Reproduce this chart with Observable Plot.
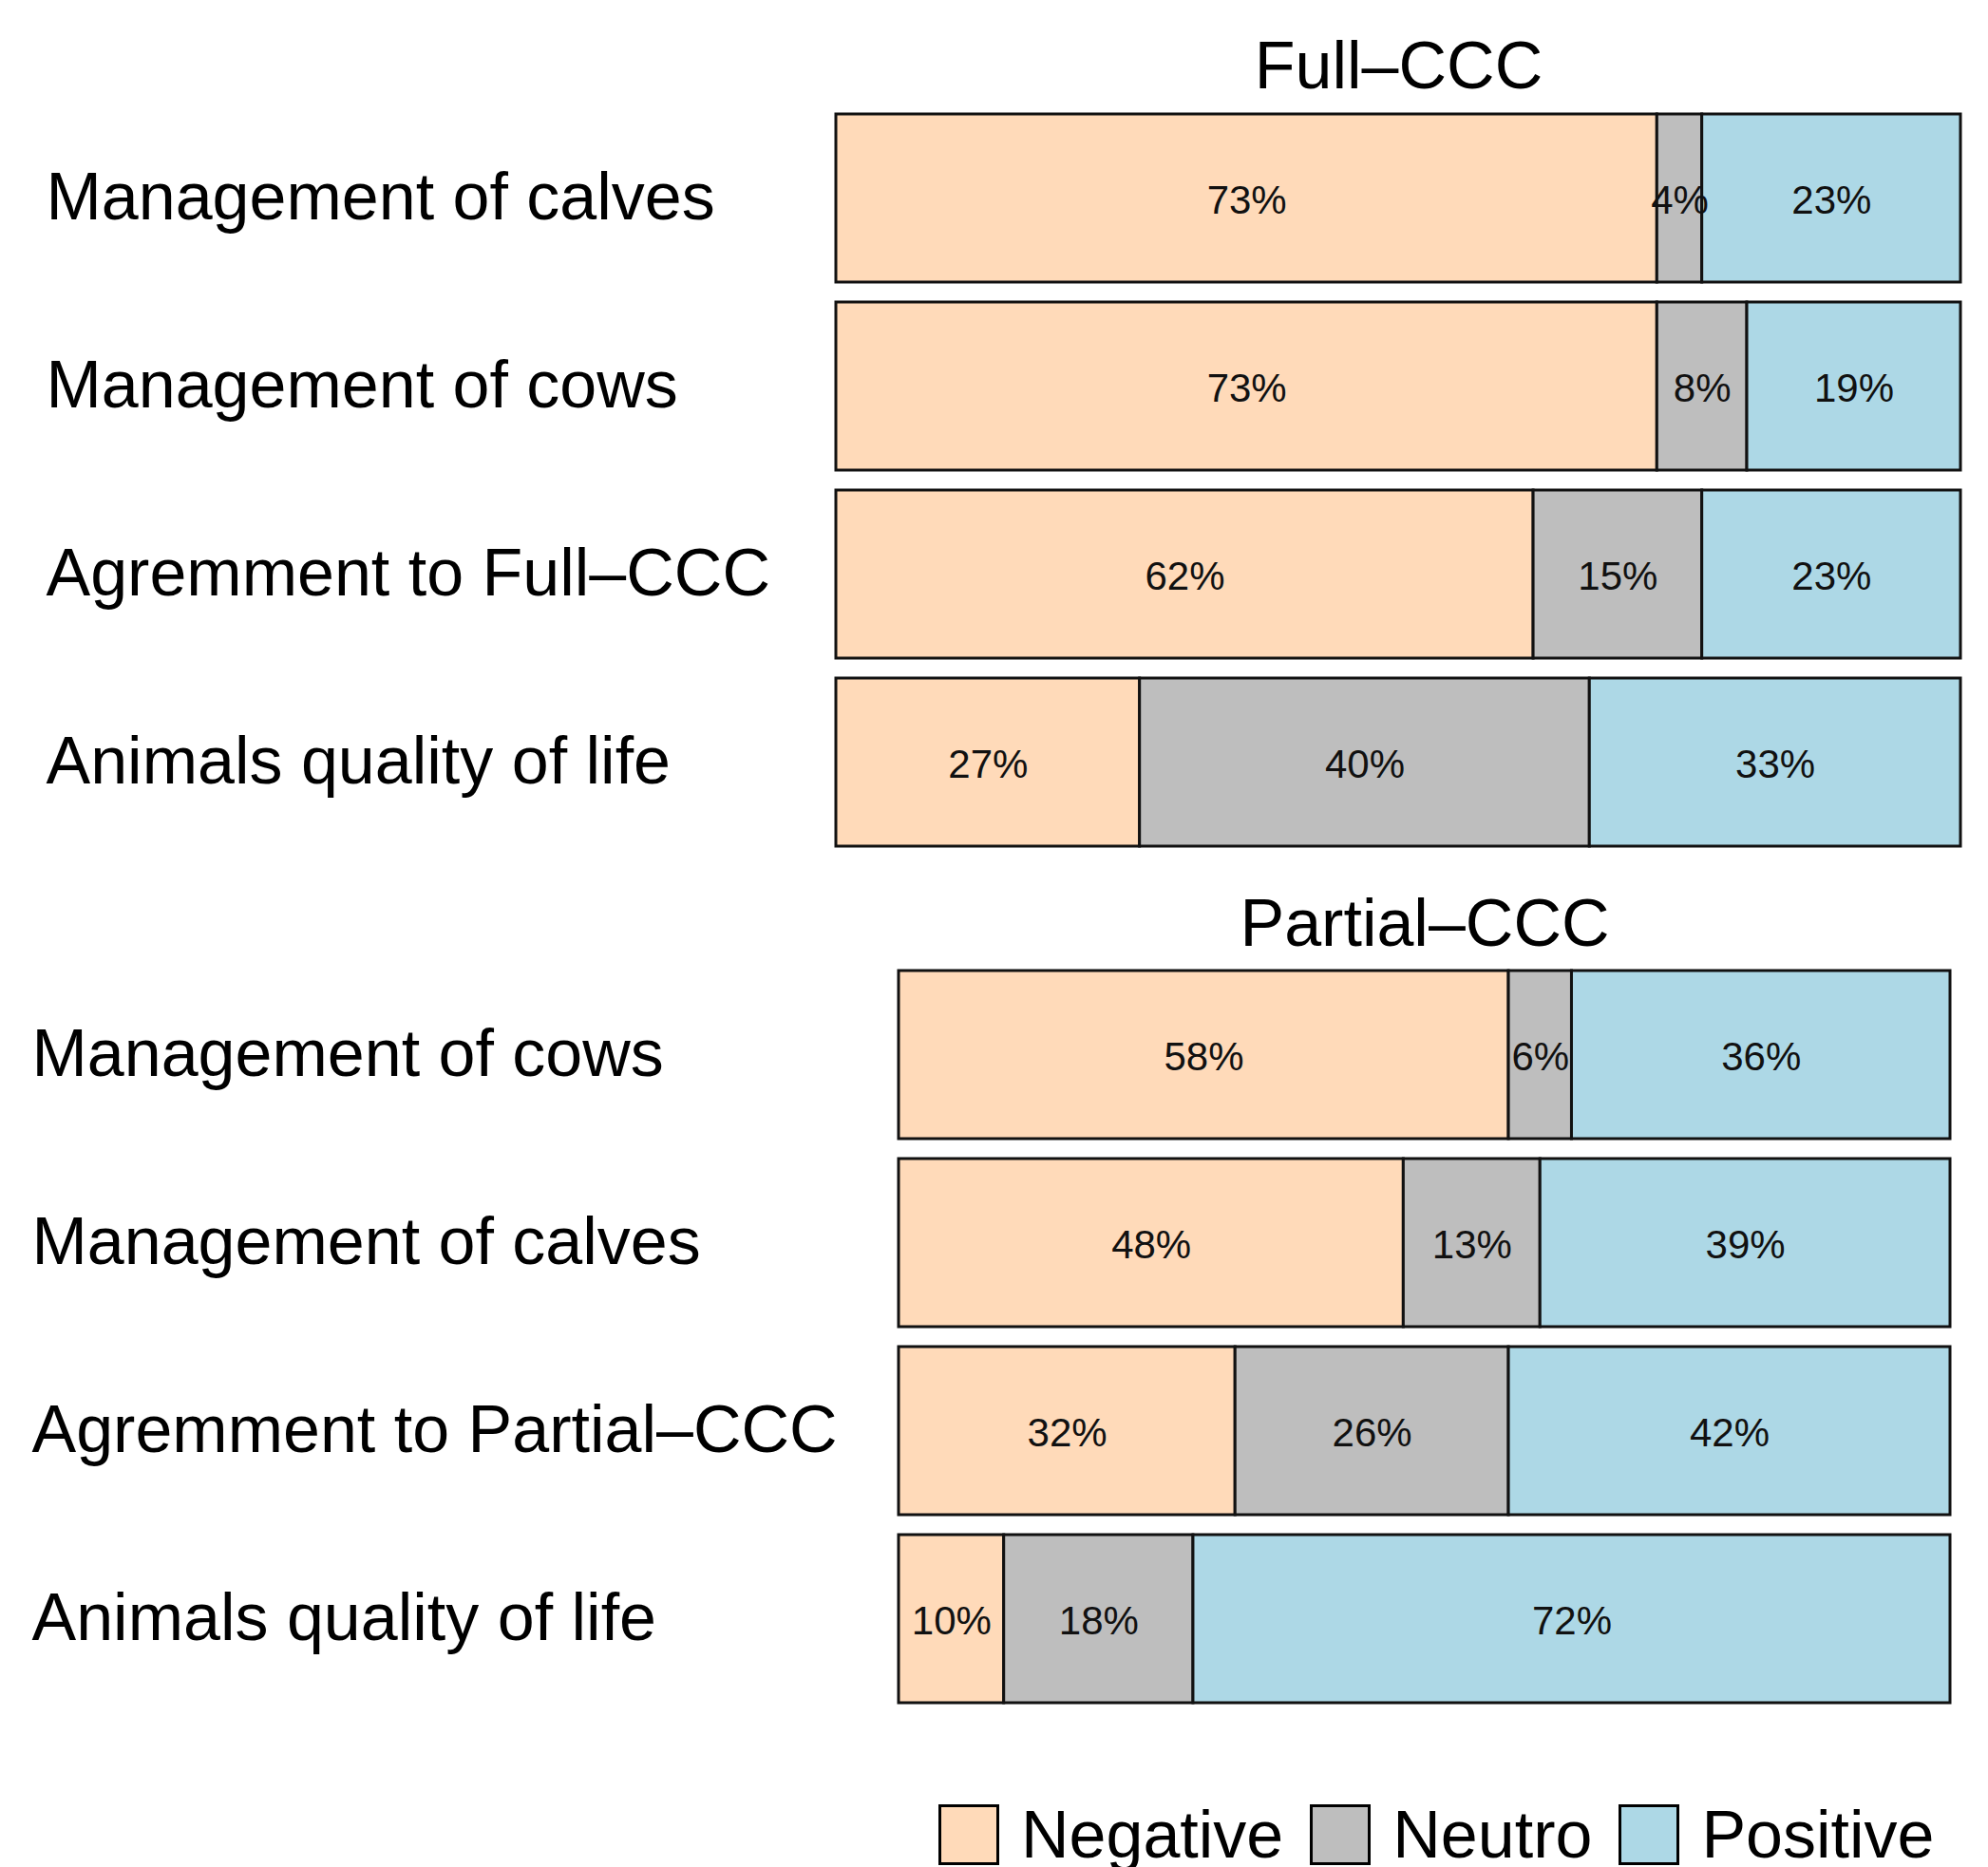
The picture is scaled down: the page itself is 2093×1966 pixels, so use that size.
<!DOCTYPE html>
<html>
<head>
<meta charset="utf-8">
<script src="https://cdn.jsdelivr.net/npm/d3@7"></script>
<script src="https://cdn.jsdelivr.net/npm/@observablehq/plot@0.6"></script>
<style>
  html, body { margin: 0; padding: 0; background: #fff; }
  body { width: 2093px; height: 1966px; overflow: hidden; position: relative;
         font-family: "Liberation Sans", Arial, Helvetica, sans-serif; }
  #full { position: absolute; left: 0; top: 0; }
  #partial { position: absolute; left: 0; top: 930px; }
  #legend { position: absolute; left: 988px; top: 1900px; display: flex; align-items: center;
            font-size: 70px; line-height: 64px; color: #000; }
  .sw { width: 58px; height: 58px; border: 3px solid #000; box-sizing: content-box; }
  .lab { margin-left: 23px; margin-right: 28px; }
</style>
</head>
<body>
<div id="full"></div>
<div id="partial"></div>
<div id="legend"></div>
<script>
// ---- data ----
const levels = ["Negative", "Neutro", "Positive"];
const levelColors = ["#FFDAB9", "#BEBEBE", "#ADD8E6"];

const fullTitle = "Full–CCC";
const fullCategories = ["Management of calves", "Management of cows", "Agremment to Full–CCC", "Animals quality of life"];
const fullNegative = [73, 73, 62, 27];
const fullNeutro   = [4, 8, 15, 40];
const fullPositive = [23, 19, 23, 33];

const partialTitle = "Partial–CCC";
const partialCategories = ["Management of cows", "Management of calves", "Agremment to Partial–CCC", "Animals quality of life"];
const partialNegative = [58, 48, 32, 10];
const partialNeutro   = [6, 13, 26, 18];
const partialPositive = [36, 39, 42, 72];

// ---- build ----
function rowsOf(cats, neg, neu, pos) {
  const series = [neg, neu, pos];
  return cats.flatMap((c, i) => levels.map((l, j) => ({cat: c, level: l, value: series[j][i]})));
}

const FONT = '"Liberation Sans", Arial, Helvetica, sans-serif';

function panel({title, cats, rows, height, mt, mb, ml, mr, labelX, titleDy}) {
  return Plot.plot({
    width: 2093,
    height,
    marginTop: mt,
    marginBottom: mb,
    marginLeft: ml,
    marginRight: mr,
    style: {fontFamily: FONT, background: "#fff", color: "#000", overflow: "visible"},
    x: {domain: [0, 100], axis: null},
    y: {domain: cats, paddingInner: 0.106, paddingOuter: 0, axis: null},
    color: {domain: levels, range: levelColors},
    marks: [
      Plot.barX(rows, Plot.stackX({y: "cat", x: "value", fill: "level", order: levels,
        stroke: "#111", strokeWidth: 3})),
      Plot.text(rows, Plot.stackX({y: "cat", x: "value", z: "level", order: levels,
        text: d => d.value + "%", fontSize: 42, fill: "#111", dy: 3})),
      Plot.axisY({tickSize: 0, tickPadding: ml - labelX, textAnchor: "start",
        fontSize: 70, label: null, fill: "#000"}),
      Plot.text([title], {frameAnchor: "top", lineAnchor: "bottom", dy: titleDy, fontSize: 70, fill: "#000"})
    ]
  });
}

document.getElementById("full").append(panel({
  title: fullTitle, cats: fullCategories,
  rows: rowsOf(fullCategories, fullNegative, fullNeutro, fullPositive),
  height: 930, mt: 119, mb: 38, ml: 880, mr: 29, labelX: 48, titleDy: -27
}));

document.getElementById("partial").append(panel({
  title: partialTitle, cats: partialCategories,
  rows: rowsOf(partialCategories, partialNegative, partialNeutro, partialPositive),
  height: 930, mt: 91, mb: 66, ml: 946, mr: 40, labelX: 33, titleDy: -26
}));

// legend
const legend = document.getElementById("legend");
levels.forEach((l, i) => {
  const sw = document.createElement("div");
  sw.className = "sw";
  sw.style.background = levelColors[i];
  const lab = document.createElement("span");
  lab.className = "lab";
  lab.textContent = l;
  legend.append(sw, lab);
});
</script>
</body>
</html>
